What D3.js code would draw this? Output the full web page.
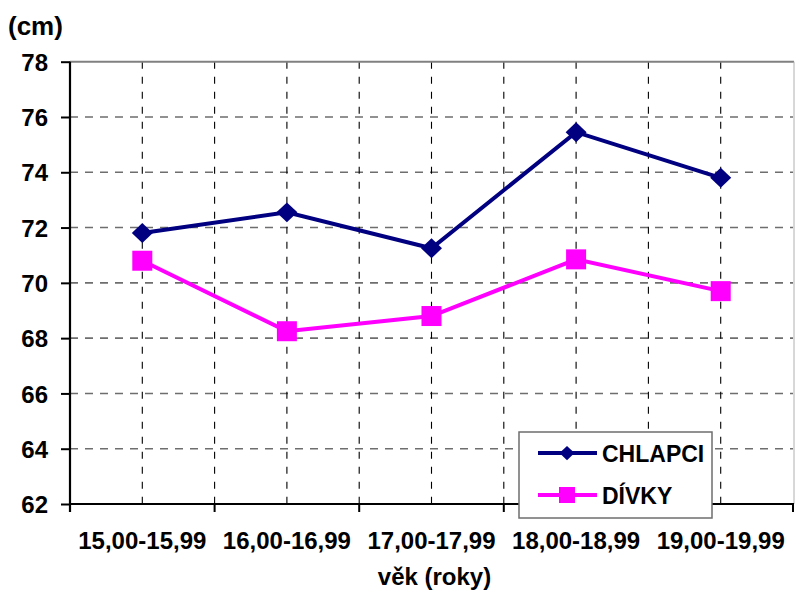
<!DOCTYPE html>
<html><head><meta charset="utf-8">
<script src="https://cdn.jsdelivr.net/npm/d3@7"></script>
<style>
html,body{margin:0;padding:0;background:#fff;}
text{font-family:"Liberation Sans",Arial,sans-serif;font-weight:bold;fill:#000;}
</style></head>
<body>
<svg id="c" width="795" height="596"></svg>
<script>
const categories = ["15,00-15,99","16,00-16,99","17,00-17,99","18,00-18,99","19,00-19,99"];
const chlapci = [71.8, 72.55, 71.25, 75.45, 73.8];
const divky = [70.8, 68.25, 68.8, 70.85, 69.7];
const yTicks = [62,64,66,68,70,72,74,76,78];
const seriesNames = ["CHLAPCI","DÍVKY"];
const yLabel = "(cm)";
const xLabel = "věk (roky)";

const svg = d3.select("#c");
const L = 70, R = 793, T = 61.7, B = 504;
const x = d3.scaleBand().domain(categories).range([L, R]);
const y = d3.scaleLinear().domain([62, 78]).range([B, T]);
const cx = d => x(d) + x.bandwidth()/2;

// horizontal grid
svg.append("g").selectAll("line").data(yTicks.filter(v => v>62 && v<78)).join("line")
  .attr("x1", L).attr("x2", R).attr("y1", d=>y(d)).attr("y2", d=>y(d))
  .attr("stroke", "#6e6e6e").attr("stroke-width", 1.6).attr("stroke-dasharray", "8,7");
// vertical grid at centers and boundaries
const bounds = categories.slice(1).map(c => x(c));
svg.append("g").selectAll("line").data(categories.map(cx).concat(bounds)).join("line")
  .attr("x1", d=>d).attr("x2", d=>d).attr("y1", T).attr("y2", B)
  .attr("stroke", "#000").attr("stroke-width", 1.1).attr("stroke-dasharray", "7,8");
// top & right border
svg.append("line").attr("x1", L).attr("x2", R+1).attr("y1", T).attr("y2", T).attr("stroke", "#808080").attr("stroke-width", 2);
svg.append("line").attr("x1", R+1).attr("x2", R+1).attr("y1", T).attr("y2", B).attr("stroke", "#b0b0b0").attr("stroke-width", 1);

// y axis
const yAxis = svg.append("g").attr("transform", `translate(${L},0)`)
  .call(d3.axisLeft(y).tickValues(yTicks).tickSize(9).tickPadding(13).tickFormat(d3.format("d")));
yAxis.select(".domain").attr("stroke-width", 2.2).attr("d", `M0,${T}V${B+8}`);
yAxis.selectAll(".tick line").attr("stroke-width", 2);
yAxis.selectAll("text").style("font-size", "24px").attr("dy", "0.36em");

// x axis
const xAxis = svg.append("g").attr("transform", `translate(0,${B})`)
  .call(d3.axisBottom(x).tickSize(0).tickPadding(45));
xAxis.select(".domain").attr("stroke-width", 2.2).attr("d", `M${L},0H${R+1}`);
xAxis.selectAll("text").style("font-size", "24px").attr("dy", "0");
svg.append("g").selectAll("line").data([L].concat(bounds, [R])).join("line")
  .attr("x1", d=>d).attr("x2", d=>d).attr("y1", B).attr("y2", B+8)
  .attr("stroke", "#000").attr("stroke-width", 2);

// labels
svg.append("text").attr("x", 8).attr("y", 35).style("font-size", "26px").text(yLabel);
svg.append("text").attr("x", (L+R)/2 + 3).attr("y", 585).attr("text-anchor", "middle").style("font-size", "24px").text(xLabel);

const line = d3.line().x((d,i)=>cx(categories[i])).y(d=>y(d));
const diamond = (s) => `M0,${-s*0.95}L${s},0L0,${s*0.95}L${-s},0Z`;

svg.append("path").datum(chlapci).attr("d", line).attr("fill", "none").attr("stroke", "#000080").attr("stroke-width", 4);
svg.append("path").datum(divky).attr("d", line).attr("fill", "none").attr("stroke", "#ff00ff").attr("stroke-width", 4);
svg.append("g").selectAll("path").data(chlapci).join("path")
  .attr("transform", (d,i)=>`translate(${cx(categories[i])},${y(d)})`).attr("d", diamond(10.5)).attr("fill", "#000080");
svg.append("g").selectAll("rect").data(divky).join("rect")
  .attr("x", (d,i)=>cx(categories[i])-10).attr("y", d=>y(d)-10).attr("width", 20).attr("height", 20).attr("fill", "#ff00ff");

// legend
const lg = svg.append("g");
lg.append("rect").attr("x", 519).attr("y", 432).attr("width", 193).attr("height", 86)
  .attr("fill", "#fff").attr("stroke", "#6e6e6e").attr("stroke-width", 1.5);
const lrows = [{name: seriesNames[0], c:"#000080", y:453, m:"d"},{name: seriesNames[1], c:"#ff00ff", y:495, m:"s"}];
lrows.forEach(r => {
  lg.append("line").attr("x1", 538).attr("x2", 597).attr("y1", r.y).attr("y2", r.y).attr("stroke", r.c).attr("stroke-width", 4);
  if (r.m === "d") lg.append("path").attr("transform", `translate(567,${r.y})`).attr("d", diamond(7.5)).attr("fill", r.c);
  else lg.append("rect").attr("x", 559).attr("y", r.y-8).attr("width", 16).attr("height", 16).attr("fill", r.c);
  lg.append("text").attr("x", 602).attr("y", r.y + 8.5).style("font-size", "23px").text(r.name);
});
</script>
</body></html>
